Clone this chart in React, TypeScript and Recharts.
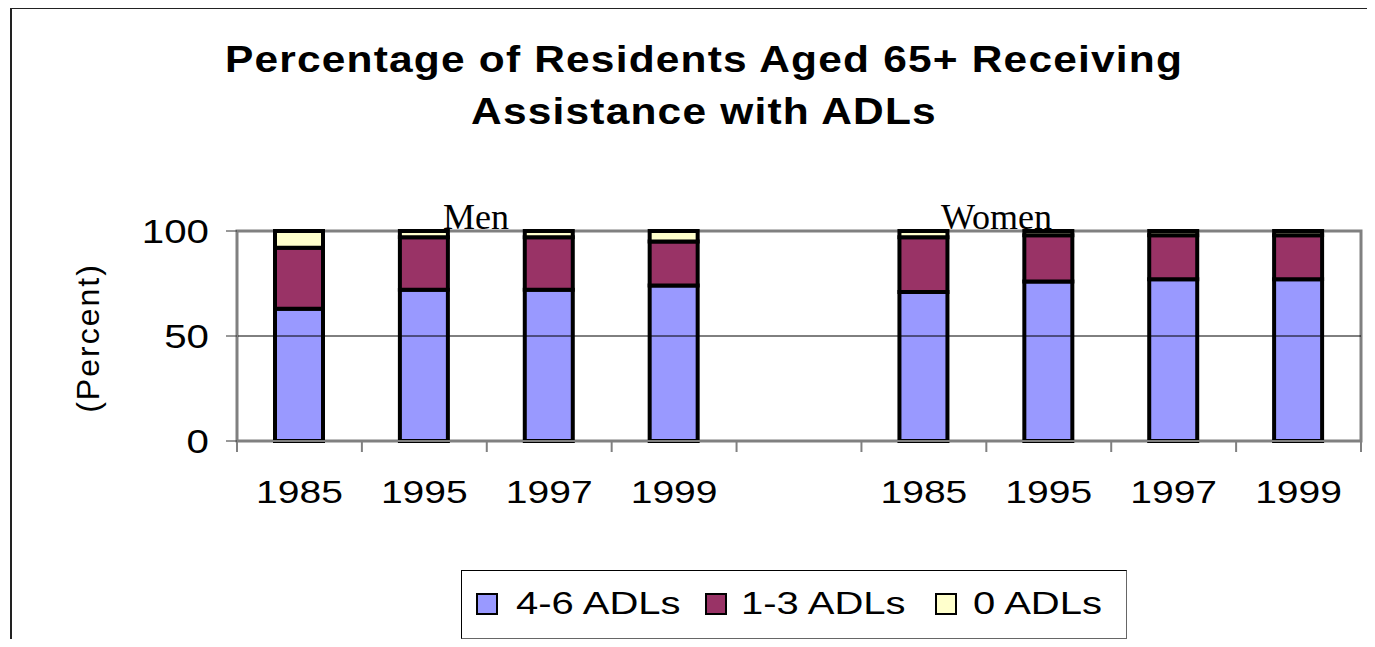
import React from "react";
import { BarChart, Bar, XAxis, YAxis, ReferenceLine, ReferenceArea } from "recharts";

const categories = ["1985", "1995", "1997", "1999", "", "1985", "1995", "1997", "1999"];
const adl46 = [63, 72, 72, 74, null, 71, 76, 77, 77];
const adl13 = [29, 25, 25, 21, null, 26, 22, 21, 21];
const adl0 = [8, 3, 3, 5, null, 3, 2, 2, 2];
const yTicks = [0, 50, 100];

const series = [
  { key: "adl46", name: "4-6 ADLs", color: "#9999FF" },
  { key: "adl13", name: "1-3 ADLs", color: "#993366" },
  { key: "adl0", name: "0 ADLs", color: "#FFFFCC" },
];

const data = categories.map((year, i) => ({
  key: `c${i}`,
  year,
  adl46: adl46[i],
  adl13: adl13[i],
  adl0: adl0[i],
}));

const SANS = "'Liberation Sans', Arial, sans-serif";
const SERIF = "'Liberation Serif', 'Times New Roman', serif";
const STRETCH = 1.22;
const BAND = 1124 / categories.length;

function XTick({ x, y, payload, index }: any) {
  const half = payload?.offset ?? BAND / 2;
  const last = index === categories.length - 1;
  return (
    <g>
      <line x1={x - half} x2={x - half} y1={y} y2={y + 11} stroke="#808080" strokeWidth={2} />
      {last && <line x1={x + half} x2={x + half} y1={y} y2={y + 11} stroke="#808080" strokeWidth={2} />}
      <text
        transform={`translate(${x},${y + 62}) scale(${STRETCH},1)`}
        textAnchor="middle"
        fontFamily={SANS}
        fontSize={32}
        fill="#000"
      >
        {data[index]?.year}
      </text>
    </g>
  );
}

function YTick({ x, y, payload }: any) {
  return (
    <g>
      <line x1={x - 11} x2={x} y1={y} y2={y} stroke="#333" strokeWidth={1} />
      <text
        transform={`translate(${x - 28},${y + 12}) scale(${STRETCH},1)`}
        textAnchor="end"
        fontFamily={SANS}
        fontSize={33}
        fill="#000"
      >
        {payload.value}
      </text>
    </g>
  );
}

const legendPos = [
  { sq: 476, tx: 516 },
  { sq: 705, tx: 741 },
  { sq: 935, tx: 973 },
];

export default function App() {
  return (
    <div
      style={{
        position: "relative",
        width: 1375,
        height: 647,
        margin: -8,
        overflow: "hidden",
        background: "#fff",
      }}
    >
      <div
        style={{
          position: "absolute",
          left: 10,
          top: 7,
          width: 1400,
          height: 700,
          borderTop: "2px solid #222",
          borderLeft: "2px solid #222",
        }}
      />
      <div
        style={{
          position: "absolute",
          left: 0,
          width: 1408,
          top: 34,
          textAlign: "center",
          fontFamily: SANS,
          fontWeight: "bold",
          fontSize: 36,
          lineHeight: "52px",
          letterSpacing: 1,
          transform: "scaleX(1.18)",
          transformOrigin: "704px 0",
        }}
      >
        Percentage of Residents Aged 65+ Receiving
        <br />
        Assistance with ADLs
      </div>

      <div style={{ position: "absolute", left: 0, top: 0 }}>
        <BarChart
          width={1375}
          height={647}
          data={data}
          margin={{ top: 231, right: 14, left: 167, bottom: 126 }}
        >
          <ReferenceArea y1={0} y2={100} fill="none" stroke="#808080" strokeWidth={3} />
          <ReferenceLine y={50} stroke="#000" strokeWidth={1} />
          <XAxis
            dataKey="key"
            height={80}
            axisLine={{ stroke: "#808080", strokeWidth: 2 }}
            tickLine={false}
            tickSize={0}
            tickMargin={0}
            interval={0}
            tick={<XTick />}
          />
          <YAxis
            domain={[0, 100]}
            ticks={yTicks}
            width={70}
            axisLine={{ stroke: "#808080", strokeWidth: 2 }}
            tickLine={false}
            tickSize={0}
            tickMargin={0}
            tick={<YTick />}
          />
          {series.map((s) => (
            <Bar
              key={s.key}
              dataKey={s.key}
              name={s.name}
              stackId="a"
              fill={s.color}
              stroke="#000"
              strokeWidth={4}
              barSize={48}
              isAnimationActive={false}
            />
          ))}
        </BarChart>
      </div>

      <div
        style={{
          position: "absolute",
          left: 88,
          top: 338,
          transform: "translate(-50%,-50%) rotate(-90deg)",
          fontFamily: SANS,
          fontSize: 32,
          whiteSpace: "nowrap",
          letterSpacing: 2,
        }}
      >
        (Percent)
      </div>

      <div style={{ position: "absolute", left: 443, top: 197, fontFamily: SERIF, fontSize: 36, lineHeight: "40px" }}>
        Men
      </div>
      <div style={{ position: "absolute", left: 941, top: 197, fontFamily: SERIF, fontSize: 36, lineHeight: "40px" }}>
        Women
      </div>

      <div
        style={{
          position: "absolute",
          left: 461,
          top: 570,
          width: 666,
          height: 69,
          border: "1px solid #000",
          borderRightColor: "#666",
          borderBottomColor: "#666",
          boxSizing: "border-box",
        }}
      />
      {series.map((s, i) => (
        <React.Fragment key={s.key}>
          <div
            style={{
              position: "absolute",
              left: legendPos[i].sq,
              top: 593,
              width: 22,
              height: 22,
              background: s.color,
              border: "2px solid #000",
              boxSizing: "border-box",
            }}
          />
          <div
            style={{
              position: "absolute",
              left: legendPos[i].tx,
              top: 583,
              fontFamily: SANS,
              fontSize: 32,
              lineHeight: "40px",
              whiteSpace: "nowrap",
              transform: "scaleX(1.25)",
              transformOrigin: "left center",
            }}
          >
            {s.name}
          </div>
        </React.Fragment>
      ))}
    </div>
  );
}
